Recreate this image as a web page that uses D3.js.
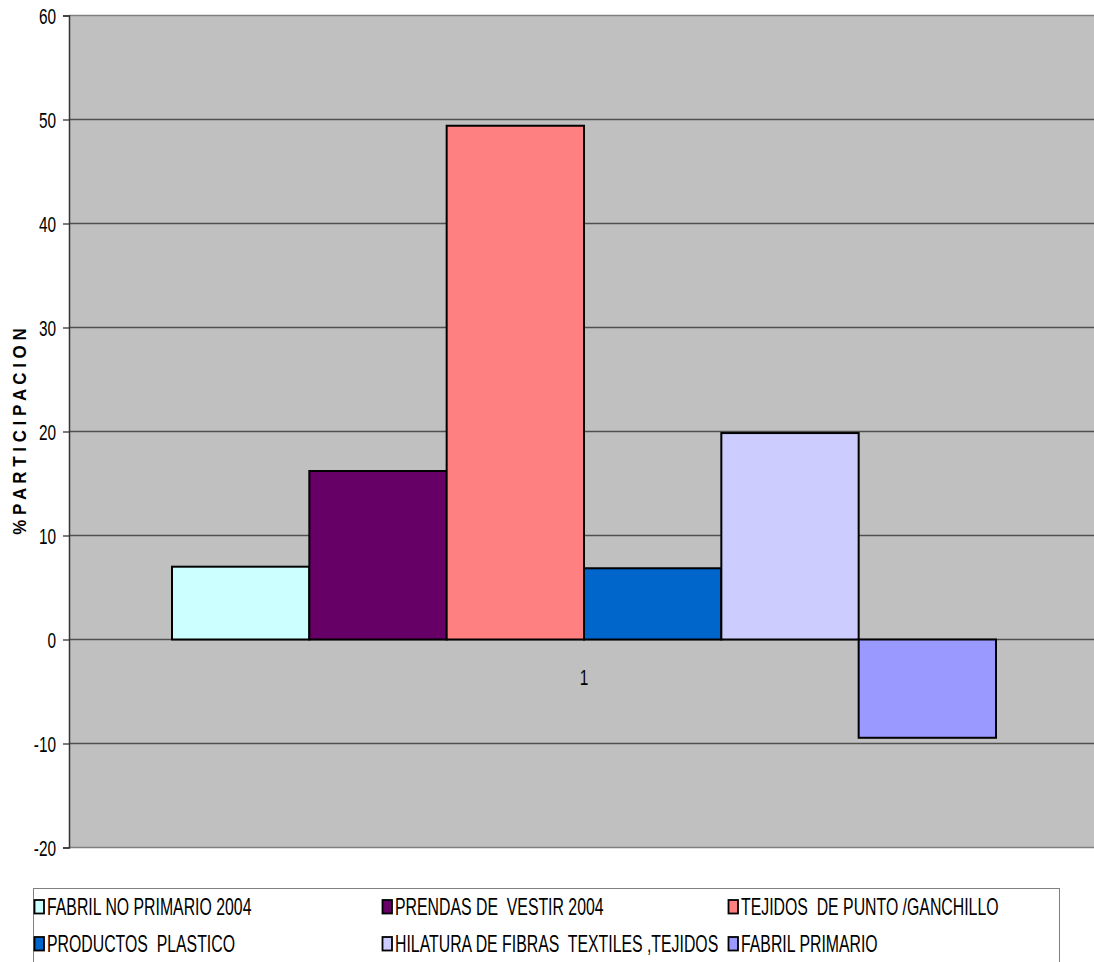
<!DOCTYPE html>
<html><head><meta charset="utf-8">
<script src="https://cdn.jsdelivr.net/npm/d3@7"></script>
<style>
html,body{margin:0;padding:0;background:#fff;}
svg{display:block;}
text{font-family:"Liberation Sans",Arial,sans-serif;}
</style></head>
<body>
<svg id="c" width="1094" height="962"></svg>
<script>
const categories = ["1"];
const seriesNames = ["FABRIL NO PRIMARIO 2004","PRENDAS DE  VESTIR 2004","TEJIDOS  DE PUNTO /GANCHILLO","PRODUCTOS  PLASTICO","HILATURA DE FIBRAS  TEXTILES ,TEJIDOS","FABRIL PRIMARIO"];
const seriesValues = [7.0, 16.2, 49.4, 6.85, 19.85, -9.45];
const seriesColors = ["#CCFFFF","#660066","#FF8080","#0066CC","#CCCCFF","#9999FF"];
const yTicks = [-20,-10,0,10,20,30,40,50,60];
const yTitle = "% P A R T I C I P A C I O N";

const svg = d3.select("#c");
const L = 69, R = 1099, T = 15.5, B = 847.5;
const SX = 0.7; // horizontal condensation of the text

const y = d3.scaleLinear().domain([-20,60]).range([B,T]);
const x0 = d3.scaleBand().domain(categories).range([L,R]).paddingInner(0).paddingOuter(0);
const groupW = x0.bandwidth()/7.5*6;
const x1 = d3.scaleBand().domain(seriesNames).range([0,groupW]).padding(0);

// plot background
svg.append("rect").attr("x",L).attr("y",T).attr("width",R-L).attr("height",B-T).attr("fill","#C0C0C0");

// gridlines
svg.append("g").selectAll("line").data(yTicks).join("line")
  .attr("x1",L).attr("x2",R).attr("y1",d=>y(d)).attr("y2",d=>y(d))
  .attr("stroke",d=>(d===60||d===-20)?"#808080":"#505050").attr("stroke-width",1.3);

// y axis
const yAxis = d3.axisLeft(y).tickValues(yTicks).tickSize(6).tickFormat(d=>String(d));
const ga = svg.append("g").attr("transform",`translate(${L},0)`).call(yAxis);
ga.select(".domain").attr("stroke","#333").attr("stroke-width",1.5);
ga.selectAll(".tick line").attr("stroke","#333").attr("stroke-width",1.3);
ga.selectAll(".tick text").attr("font-size",22).attr("fill","#000")
  .attr("x",0).attr("dy","0.36em").attr("text-anchor","end")
  .attr("transform",`translate(-13,0) scale(${SX},1)`)
  .style("font-family",'"Liberation Sans",Arial,sans-serif');

// bars
const gx = x0("1")+(x0.bandwidth()-groupW)/2;
const grp = svg.append("g").attr("transform",`translate(${gx},0)`);
grp.selectAll("rect").data(seriesNames.map((n,i)=>({n,v:seriesValues[i],c:seriesColors[i]}))).join("rect")
  .attr("x",d=>x1(d.n)).attr("width",x1.bandwidth())
  .attr("y",d=>y(Math.max(0,d.v))).attr("height",d=>Math.abs(y(d.v)-y(0)))
  .attr("fill",d=>d.c).attr("stroke","#000").attr("stroke-width",2);

// category label
svg.append("text").attr("transform",`translate(${gx+groupW/2},${y(0)+45}) scale(${SX},1)`)
  .attr("text-anchor","middle").attr("font-size",22).text(categories[0]);

// y title
svg.append("text").attr("transform",`translate(26,${(T+B)/2}) rotate(-90) scale(0.94,1)`)
  .attr("text-anchor","middle").attr("font-size",18).attr("font-weight","bold")
  .text(yTitle);

// legend
const lg = svg.append("g");
lg.append("rect").attr("x",33.5).attr("y",888.5).attr("width",1026).attr("height",90).attr("fill","#fff").attr("stroke","#808080").attr("stroke-width",1);
const colX = [34,382,728], rowY = [907,944];
seriesNames.forEach((n,i)=>{
  const cx = colX[i%3], cy = rowY[Math.floor(i/3)];
  lg.append("rect").attr("x",cx+0.5).attr("y",cy-7).attr("width",9.5).attr("height",13.5)
    .attr("fill",seriesColors[i]).attr("stroke","#000").attr("stroke-width",1.8);
  lg.append("text").attr("transform",`translate(${cx+13},${cy+8}) scale(0.66,1)`)
    .attr("font-size",24).attr("xml:space","preserve").style("white-space","pre").text(n);
});
</script>
</body></html>
